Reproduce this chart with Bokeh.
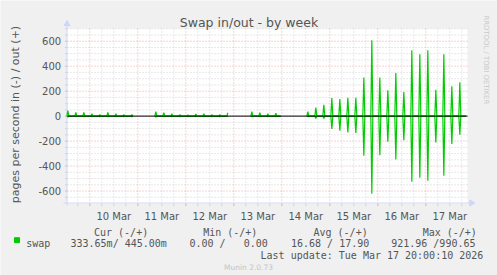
import math
import pandas as pd
from bokeh.plotting import figure
from bokeh.models import Range1d, Label
from bokeh.embed import file_html
from bokeh.resources import INLINE

# ---------------- data ----------------
segment_starts = ["2026-03-09 12:30", "2026-03-11 08:30", "2026-03-13 08:30", "2026-03-14 12:30"]
segment_ends = ["2026-03-10 21:30", "2026-03-12 21:00", "2026-03-13 23:30", "2026-03-17 20:00"]

spike_times = [
    "2026-03-09 13:00", "2026-03-09 17:00", "2026-03-09 21:00", "2026-03-10 01:00", "2026-03-10 05:00",
    "2026-03-10 09:00", "2026-03-10 13:00", "2026-03-10 17:00", "2026-03-10 21:00",
    "2026-03-11 09:00", "2026-03-11 13:00", "2026-03-11 17:00", "2026-03-11 21:00", "2026-03-12 01:00",
    "2026-03-12 05:00", "2026-03-12 09:00", "2026-03-12 13:00", "2026-03-12 17:00", "2026-03-12 21:00",
    "2026-03-13 09:00", "2026-03-13 13:00", "2026-03-13 17:00", "2026-03-13 21:00",
    "2026-03-14 13:00", "2026-03-14 17:00", "2026-03-14 21:00",
    "2026-03-15 01:00", "2026-03-15 05:00", "2026-03-15 09:00", "2026-03-15 13:00", "2026-03-15 17:00", "2026-03-15 21:00",
    "2026-03-16 01:00", "2026-03-16 05:00", "2026-03-16 09:00", "2026-03-16 13:00", "2026-03-16 17:00", "2026-03-16 21:00",
    "2026-03-17 01:00", "2026-03-17 05:00", "2026-03-17 09:00", "2026-03-17 13:00", "2026-03-17 17:00",
]
swap_out = [45, 29, 29, 19, 13, 29, 19, 13, 13,
            37, 27, 19, 13, 11, 16, 19, 13, 13, 27,
            35, 27, 19, 24,
            35, 68, 90,
            145, 136, 146, 146, 310, 607,
            310, 207, 346, 193, 527, 495,
            527, 212, 495, 239, 271]
swap_in = [8, 6, 6, 5, 4, 6, 5, 4, 4,
           8, 6, 5, 4, 4, 4, 5, 4, 4, 5,
           6, 5, 5, 5,
           5, 20, 20,
           102, 117, 130, 134, 318, 622,
           313, 206, 347, 193, 526, 494,
           518, 212, 478, 223, 149]

x_tick_days = ["2026-03-10 12:00", "2026-03-11 12:00", "2026-03-12 12:00", "2026-03-13 12:00",
               "2026-03-14 12:00", "2026-03-15 12:00", "2026-03-16 12:00", "2026-03-17 12:00"]
x_tick_labels = ["10 Mar", "11 Mar", "12 Mar", "13 Mar", "14 Mar", "15 Mar", "16 Mar", "17 Mar"]
y_ticks = [-600, -400, -200, 0, 200, 400, 600]

view_start = "2026-03-09 12:50"
view_end = "2026-03-17 20:50"
y_low, y_high = -700, 702

title_text = "Swap in/out - by week"
y_label = "pages per second in (-) / out (+)"
legend_headers = ["Cur (-/+)", "Min (-/+)", "Avg (-/+)", "Max (-/+)"]
legend_name = "swap"
legend_values = ["333.65m/ 445.00m", "0.00 /   0.00", "16.68 / 17.90", "921.96 /990.65"]
last_update = "Last update: Tue Mar 17 20:00:10 2026"
watermark = "RRDTOOL / TOBI OETIKER"
version_text = "Munin 2.0.73"


# ---------------- helpers ----------------
def ms(s):
    return int(pd.Timestamp(s).value // 10**6)


W, H = 497, 275
PL, PR, PT, PB = 67, 467, 28, 203          # plot area in canvas pixels
t0, t1 = ms(view_start), ms(view_end)


def X(px):
    return t0 + (px - PL) * (t1 - t0) / (PR - PL)


def Y(py):
    return y_high - (py - PT) * (y_high - y_low) / (PB - PT)


# ---------------- build line data ----------------
HALF = 30 * 60 * 1000
xs, ys_out, ys_in = [], [], []
for s, e in zip(segment_starts, segment_ends):
    s_ms, e_ms = ms(s), ms(e)
    pts = {s_ms: (0, 0), e_ms: (0, 0)}
    for t, o, i in zip(spike_times, swap_out, swap_in):
        t_ms = ms(t)
        if s_ms <= t_ms <= e_ms:
            for tt in (t_ms - HALF, t_ms + HALF):
                if s_ms <= tt <= e_ms and tt not in pts:
                    pts[tt] = (0, 0)
            pts[t_ms] = (o, i)
    for tt in sorted(pts):
        xs.append(tt)
        ys_out.append(pts[tt][0])
        ys_in.append(-pts[tt][1])
    xs.append(e_ms + 1)
    ys_out.append(float("nan"))
    ys_in.append(float("nan"))

# ---------------- figure (frame = whole canvas) ----------------
p = figure(width=W, height=H, title=None,
           x_range=Range1d(X(0), X(W)), y_range=Range1d(Y(H), Y(0)),
           x_axis_location=None, y_axis_location=None, min_border=0,
           output_backend="svg", toolbar_location=None)
p.grid.visible = False
p.background_fill_color = "#F0F0F0"
p.border_fill_color = "#F0F0F0"
p.outline_line_color = None

TXT = "#555555"
AXIS_C = "#CFD6F8"
MAJ_C = "#ECA7A7"
MIN_C = "#D2D2D2"
DASH = "1 2"

# plot canvas
p.quad(left=[t0], right=[t1], bottom=[y_low], top=[y_high], fill_color="white", line_color=None)

# grid
day0 = pd.Timestamp("2026-03-09 00:00")
midnights = [ms(day0 + pd.Timedelta(days=d)) for d in range(1, 9)]
six_h = [ms(day0 + pd.Timedelta(hours=h)) for h in range(6, 9 * 24, 6)
         if h % 24 != 0 and t0 <= ms(day0 + pd.Timedelta(hours=h)) <= t1]
y_minor = [v for v in range(-650, 701, 50) if v % 200 != 0 or abs(v) > 600]

p.segment(x0=six_h, y0=[y_low] * len(six_h), x1=six_h, y1=[y_high] * len(six_h),
          line_color=MIN_C, line_dash=DASH, line_width=1)
p.segment(x0=[t0] * len(y_minor), y0=y_minor, x1=[t1] * len(y_minor), y1=y_minor,
          line_color=MIN_C, line_dash=DASH, line_width=1)
p.segment(x0=midnights, y0=[y_low] * len(midnights), x1=midnights, y1=[y_high] * len(midnights),
          line_color=MAJ_C, line_dash=DASH, line_width=1)
p.segment(x0=[t0] * len(y_ticks), y0=y_ticks, x1=[t1] * len(y_ticks), y1=y_ticks,
          line_color=MAJ_C, line_dash=DASH, line_width=1)

# small tick marks on the axes
p.segment(x0=[X(64.5)] * len(y_minor), y0=y_minor, x1=[X(66.5)] * len(y_minor), y1=y_minor,
          line_color=MIN_C, line_width=1)
p.segment(x0=[X(64.5)] * len(y_ticks), y0=y_ticks, x1=[X(66.5)] * len(y_ticks), y1=y_ticks,
          line_color=MAJ_C, line_width=1)
p.segment(x0=six_h, y0=[Y(203.5)] * len(six_h), x1=six_h, y1=[Y(205.5)] * len(six_h),
          line_color=MIN_C, line_width=1)
p.segment(x0=midnights, y0=[Y(203.5)] * len(midnights), x1=midnights, y1=[Y(205.5)] * len(midnights),
          line_color=MAJ_C, line_width=1)

# axis lines and arrows
p.segment(x0=[X(66.5), X(63)], y0=[Y(205), Y(202.5)], x1=[X(66.5), X(470)], y1=[Y(24), Y(202.5)],
          line_color=AXIS_C, line_width=1)
p.scatter([X(66.5)], [Y(23.5)], marker="triangle", size=6, color=AXIS_C)
p.scatter([X(471)], [Y(202.5)], marker="triangle", size=6, angle=-math.pi / 2, color=AXIS_C)

# data lines
p.line(xs, ys_out, line_color="#00CC00", line_width=1.2)
p.line(xs, ys_in, line_color="#00CC00", line_width=1.2)
p.segment(x0=[t0], y0=[0], x1=[t1], y1=[0], line_color="black", line_width=1)


def lab(text, x, y, size, color=TXT, font="DejaVu Sans", align="left",
        baseline="alphabetic", angle=0.0, x_units="screen", y_units="screen"):
    yy = y if y_units == "data" else H - y
    p.add_layout(Label(x=x, y=yy, x_units=x_units, y_units=y_units,
                       text=text.replace(" ", "\u00A0"), text_font=font,
                       text_font_size=f"{size}px",
                       text_color=color, text_align=align, text_baseline=baseline,
                       angle=angle))


# tick labels
for v in y_ticks:
    lab(str(v), 60.6, v, 10, align="right", baseline="middle", y_units="data")
for d, t in zip(x_tick_days, x_tick_labels):
    lab(t, ms(d), 216, 10, align="center", x_units="data")

# title, axis label, watermark
lab(title_text, 248.5, 22, 12.5, align="center")
lab(y_label, 14.5, 114, 11, align="center", angle=math.pi / 2)
lab(watermark, 485, 15, 6.9, color="#C8C8C8", angle=-math.pi / 2)

# legend
MONO = "DejaVu Sans Mono"
hdr_x = [93.5, 202.7, 313.0, 422.2]
for t, x in zip(legend_headers, hdr_x):
    lab(t, x, 232, 10, font=MONO)
p.scatter([X(16.5)], [Y(239.7)], marker="square", size=5, color="#00CC00")
lab(legend_name, 25.7, 243, 10, font=MONO)
val_x = [70.0, 189.0, 290.5, 390.7]
for t, x in zip(legend_values, val_x):
    lab(t, x, 243, 10, font=MONO)
lab(last_update, 482.8, 255, 10, font=MONO, align="right")
lab(version_text, 248, 267, 7.5, color="#C4C4C4", align="center")

open("out.html", "w").write(file_html(p, INLINE))
